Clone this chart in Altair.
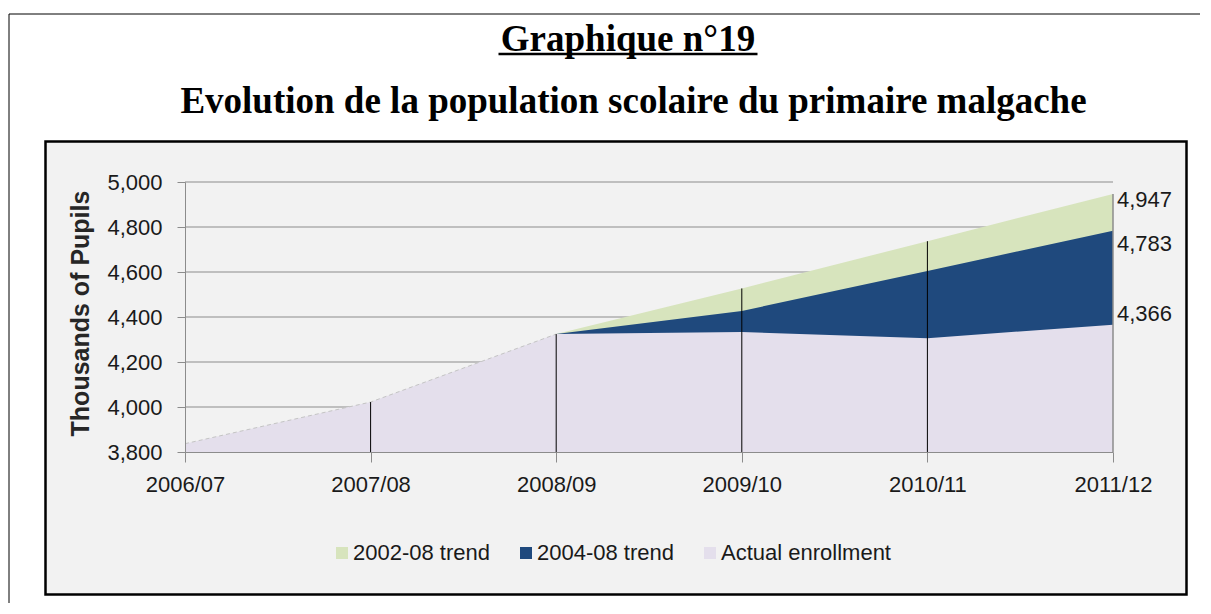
import altair as alt
import pandas as pd

# ---------------- data ----------------
years = ["2006/07", "2007/08", "2008/09", "2009/10", "2010/11", "2011/12"]
actual_enrollment = [3837, 4022, 4324, 4333, 4306, 4366]
trend_years = ["2008/09", "2009/10", "2010/11", "2011/12"]
trend_2004_08 = [4324, 4427, 4605, 4783]
trend_2002_08 = [4324, 4527, 4737, 4947]
y_ticks = [3800, 4000, 4200, 4400, 4600, 4800, 5000]
series_names = ["2002-08 trend", "2004-08 trend", "Actual enrollment"]
series_colors = ["#d7e4bd", "#1f497d", "#e4dfec"]
title_text = "Graphique n°19"
subtitle_text = "Evolution de la population scolaire du primaire malgache"
y_title = "Thousands of Pupils"

rows = []
for y, v in zip(trend_years, trend_2002_08):
    rows.append({"year": y, "series": series_names[0], "value": v})
for y, v in zip(trend_years, trend_2004_08):
    rows.append({"year": y, "series": series_names[1], "value": v})
for y, v in zip(years, actual_enrollment):
    rows.append({"year": y, "series": series_names[2], "value": v})
df = pd.DataFrame(rows)

drop_df = df.groupby("year", as_index=False)["value"].max()
grid_df = pd.DataFrame({"value": y_ticks})
last_df = df[df["year"] == years[-1]]
one = pd.DataFrame({"a": [0]})

# ---------------- layout constants ----------------
W, H = 928, 270
SANS = "Liberation Sans, Arial, sans-serif"
FS = 22
GRAY = "#8c8c8c"

X = alt.X("year:O", sort=years,
          scale=alt.Scale(type="point", padding=0, domain=years),
          axis=alt.Axis(title=None, labelAngle=0, tickSize=10, tickColor=GRAY,
                        domainColor=GRAY, labelFont=SANS, labelFontSize=FS,
                        labelColor="#1a1a1a", labelPadding=12, grid=False, zindex=1))
Y = alt.Y("value:Q",
          scale=alt.Scale(domain=[3800, 5000], nice=False, zero=False),
          axis=alt.Axis(title=None, values=y_ticks, format=",d", tickSize=8,
                        tickColor=GRAY, domainColor=GRAY, labelFont=SANS,
                        labelFontSize=FS, labelColor="#1a1a1a", labelPadding=15,
                        grid=False, zindex=1))
cscale = alt.Scale(domain=series_names, range=series_colors)
legend = alt.Legend(orient="none", legendX=146, legendY=360, direction="horizontal",
                    title=None, symbolType="square", symbolSize=144,
                    symbolStrokeWidth=0, labelFont=SANS, labelFontSize=FS,
                    labelColor="#1a1a1a", labelOffset=0, columnPadding=25,
                    labelLimit=0, padding=0)

# ---------------- decorations ----------------
box = alt.Chart(one).mark_rect(fill="#f2f2f2", stroke="#000000", strokeWidth=2.5).encode(
    x=alt.value(-139.5), x2=alt.value(1001.5), y=alt.value(-40.5), y2=alt.value(412.5))
top_border = alt.Chart(one).mark_rule(color="#000000", strokeWidth=1).encode(
    x=alt.value(-176), x2=alt.value(1015), y=alt.value(-168))
left_border = alt.Chart(one).mark_rule(color="#000000", strokeWidth=1).encode(
    x=alt.value(-176), y=alt.value(-168), y2=alt.value(421))

title = alt.Chart(one).mark_text(
    text=title_text, font="Liberation Serif", fontSize=37, fontWeight="bold",
    align="center", baseline="alphabetic", color="#000000").encode(
    x=alt.value(443), y=alt.value(-131.5))
underline = alt.Chart(one).mark_rule(color="#000000", strokeWidth=2.5).encode(
    x=alt.value(313.5), x2=alt.value(572.5), y=alt.value(-128))
subtitle = alt.Chart(one).mark_text(
    text=subtitle_text, font="Liberation Serif", fontSize=37, fontWeight="bold",
    align="center", baseline="alphabetic", color="#000000").encode(
    x=alt.value(448.5), y=alt.value(-69.5))
ytitle = alt.Chart(one).mark_text(
    text=y_title, font="Liberation Sans", fontSize=25, fontWeight="bold",
    angle=270, align="center", baseline="middle", color="#262626").encode(
    x=alt.value(-104.5), y=alt.value(131.5))

# ---------------- data layers ----------------
grid = alt.Chart(grid_df).mark_rule(color=GRAY, strokeWidth=1.2).encode(
    y=Y, x=alt.value(0), x2=alt.value(W))

areas = []
for name in series_names:
    areas.append(
        alt.Chart(df[df["series"] == name]).mark_area(opacity=1).encode(
            x=X, y=Y, y2=alt.datum(3800),
            color=alt.Color("series:N", scale=cscale, legend=legend))
    )

dashed = alt.Chart(df[(df["series"] == series_names[2]) & (df["year"].isin(years[:3]))]).mark_line(
    color="#c4c4c4", strokeDash=[4, 3], strokeWidth=1).encode(x=X, y=Y)

drops_inner = alt.Chart(drop_df).transform_filter(
    (alt.datum.year != years[0]) & (alt.datum.year != years[-1])
).mark_rule(color="#000000", strokeWidth=1).encode(x=X, y=Y, y2=alt.datum(3800))
drop_last = alt.Chart(drop_df).transform_filter(
    alt.datum.year == years[-1]
).mark_rule(color=GRAY, strokeWidth=1.5).encode(x=X, y=Y, y2=alt.datum(3800))

label_dy = {series_names[0]: 6, series_names[1]: 13, series_names[2]: -11}
labels = []
for name in series_names:
    labels.append(
        alt.Chart(last_df[last_df["series"] == name]).mark_text(
            align="left", baseline="middle", dx=4, dy=label_dy[name],
            font=SANS, fontSize=FS, color="#1a1a1a").encode(
            x=X, y=Y, text=alt.Text("value:Q", format=",d"))
    )

chart = alt.layer(
    box, top_border, left_border, grid, *areas, dashed, drops_inner, drop_last,
    *labels, title, underline, subtitle, ytitle
).properties(
    width=W, height=H,
    padding={"left": 0, "top": 5, "right": 0, "bottom": 0},
    background="#ffffff"
).configure_view(stroke=None)

chart.save("out.html", embed_options={"renderer": "svg", "actions": False})
